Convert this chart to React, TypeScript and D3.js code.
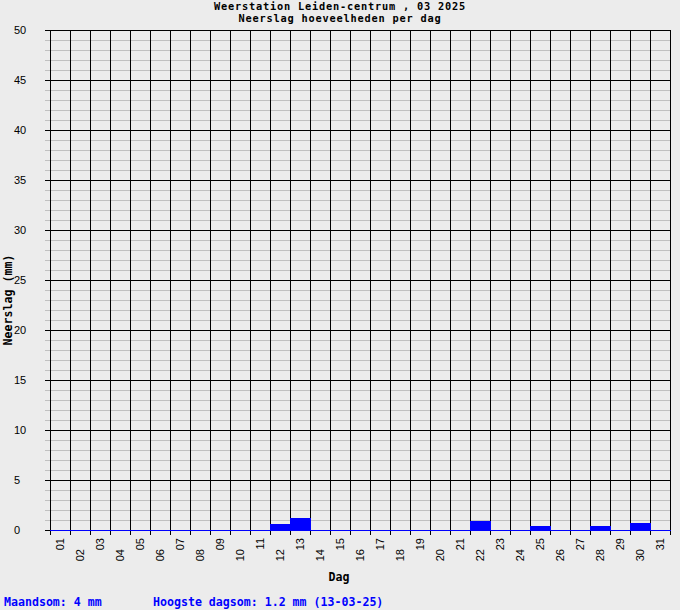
import React from "react";
import * as d3 from "d3";

const titleLines = ["Weerstation Leiden-centrum , 03 2025", "Neerslag hoeveelheden per dag"];
const days = ["01","02","03","04","05","06","07","08","09","10","11","12","13","14","15","16","17","18","19","20","21","22","23","24","25","26","27","28","29","30","31"];
const rain = [0,0,0,0,0,0,0,0,0,0,0,0.6,1.2,0,0,0,0,0,0,0,0,0.9,0,0,0.4,0,0,0.4,0,0.7,0];
const yTicks = [0,5,10,15,20,25,30,35,40,45,50];
const yAxisTitle = "Neerslag (mm)";
const xAxisTitle = "Dag";
const footerLeft = "Maandsom: 4 mm";
const footerRight = "Hoogste dagsom: 1.2 mm (13-03-25)";

const W = 680, H = 610;
const L = 50, R = 670, T = 30, B = 530;
const mono = "'DejaVu Sans Mono', 'Liberation Mono', monospace";
const sans = "'Liberation Sans', Arial, sans-serif";

export default function App() {
  const x = d3.scaleBand<string>().domain(days).range([L, R]).padding(0);
  const y = d3.scaleLinear().domain([0, 50]).range([B, T]);
  const minor = d3.range(0, 51, 1).filter((v) => v % 5 !== 0);
  const bw = x.bandwidth();
  return (
    <div style={{ position: "absolute", left: 0, top: 0 }}>
      <svg width={W} height={H} style={{ display: "block", background: "#ececec" }}>
        <rect x={0} y={0} width={W} height={H} fill="#ececec" />
        {titleLines.map((t, i) => (
          <text key={t} x={340} y={9.5 + i * 12} textAnchor="middle" fontFamily={mono} fontWeight="bold" fontSize={10.3} letterSpacing={0.8} fill="#000">{t}</text>
        ))}
        {minor.map((v) => (
          <line key={"m" + v} x1={45} x2={R} y1={Math.round(y(v)) + 0.5} y2={Math.round(y(v)) + 0.5} stroke="#c0c0c0" strokeWidth={1} />
        ))}
        {yTicks.map((v) => (
          <line key={"M" + v} x1={45} x2={R} y1={Math.round(y(v)) + 0.5} y2={Math.round(y(v)) + 0.5} stroke="#000" strokeWidth={1} />
        ))}
        {days.map((d) => (
          <line key={"v" + d} x1={(x(d) as number) + 0.5} x2={(x(d) as number) + 0.5} y1={T} y2={B + 5} stroke="#000" strokeWidth={1} />
        ))}
        <line x1={R + 0.5} x2={R + 0.5} y1={T} y2={B + 5} stroke="#000" strokeWidth={1} />
        {days.map((d, i) => rain[i] > 0 ? (
          <rect key={"b" + d} x={x(d) as number} y={Math.round(y(rain[i]))} width={bw + 1} height={B - Math.round(y(rain[i]))} fill="#0000ff" />
        ) : null)}
        <line x1={L} x2={R + 1} y1={B + 0.5} y2={B + 0.5} stroke="#0000ff" strokeWidth={1} />
        {yTicks.map((v) => (
          <text key={"t" + v} x={14} y={y(v)} dominantBaseline="central" fontFamily={sans} fontSize={11} fill="#000">{v}</text>
        ))}
        {days.map((d, i) => {
          const cx = (x(d) as number) + bw / 2;
          const ty = i % 2 === 0 ? 538 : 549;
          return (
            <text key={"x" + d} transform={`translate(${cx},${ty}) rotate(-90)`} textAnchor="end" dominantBaseline="central" fontFamily={sans} fontSize={11} fill="#000">{d}</text>
          );
        })}
        <text transform={`translate(8,300) rotate(-90)`} textAnchor="middle" dominantBaseline="central" fontFamily={mono} fontWeight="bold" fontSize={11.6} fill="#000">{yAxisTitle}</text>
        <text x={339} y={581} textAnchor="middle" fontFamily={mono} fontWeight="bold" fontSize={11.6} fill="#000">{xAxisTitle}</text>
        <text x={4} y={606} fontFamily={mono} fontWeight="bold" fontSize={11.6} fill="#0000ff">{footerLeft}</text>
        <text x={153} y={606} fontFamily={mono} fontWeight="bold" fontSize={11.6} fill="#0000ff">{footerRight}</text>
      </svg>
    </div>
  );
}
